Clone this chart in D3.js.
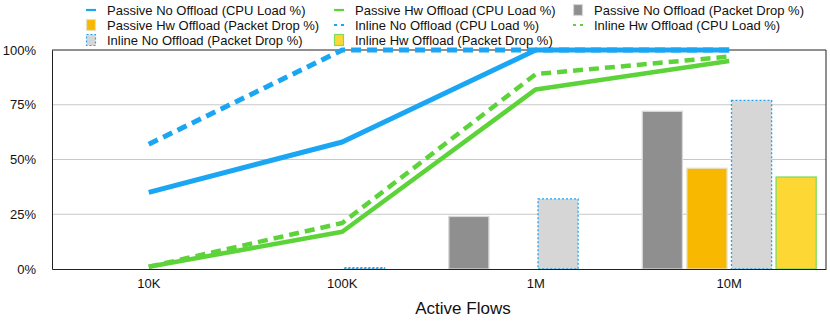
<!DOCTYPE html>
<html><head><meta charset="utf-8">
<script src="https://cdn.jsdelivr.net/npm/d3@7"></script>
<style>
body{margin:0;background:#fff;}
svg{display:block;font-family:"Liberation Sans",Arial,Helvetica,sans-serif;}
</style></head>
<body><svg id="c" width="830" height="324"></svg>
<script>
const categories = ["10K","100K","1M","10M"];
const yTicks = [0,25,50,75,100];
const yTickLabels = ["0%","25%","50%","75%","100%"];
const xTitle = "Active Flows";

// CPU load lines (%)
const passiveNoOffloadCpu = [35,58,100,100];
const passiveHwOffloadCpu = [1,17,82,95];
const inlineNoOffloadCpu  = [57,100,100,100];
const inlineHwOffloadCpu  = [1,21,89,97];

// Packet drop bars (%)
const passiveNoOffloadDrop = [0,0,24,72];
const passiveHwOffloadDrop = [0,0,0,46];
const inlineNoOffloadDrop  = [0,0.6,32,77];
const inlineHwOffloadDrop  = [0,0,0,42];

const C = {blue:"#1ba6f4", green:"#5dd33a", grey:"#8f8f8f", orange:"#f8b800", light:"#d6d6d6", yellow:"#fdd835"};

const lineSeries = [
  {name:"Passive No Offload (CPU Load %)", values:passiveNoOffloadCpu, color:C.blue, w:5, dash:null},
  {name:"Passive Hw Offload (CPU Load %)", values:passiveHwOffloadCpu, color:C.green, w:4.5, dash:null},
  {name:"Inline No Offload (CPU Load %)", values:inlineNoOffloadCpu, color:C.blue, w:5, dash:"10,6"},
  {name:"Inline Hw Offload (CPU Load %)", values:inlineHwOffloadCpu, color:C.green, w:4.5, dash:"10,6"}
];
const barSeries = [
  {name:"Passive No Offload (Packet Drop %)", values:passiveNoOffloadDrop, fill:C.grey, stroke:"#d8d8d8", dash:null},
  {name:"Passive Hw Offload (Packet Drop %)", values:passiveHwOffloadDrop, fill:C.orange, stroke:"#e8e0c0", dash:null},
  {name:"Inline No Offload (Packet Drop %)", values:inlineNoOffloadDrop, fill:C.light, stroke:C.blue, dash:"2,2"},
  {name:"Inline Hw Offload (Packet Drop %)", values:inlineHwOffloadDrop, fill:C.yellow, stroke:"#7fdc5a", dash:null}
];

const svg = d3.select("#c");
const m = {l:52, r:826, t:50, b:269};

const x = d3.scaleBand().domain(categories).range([m.l, m.r]);
const y = d3.scaleLinear().domain([0,100]).range([m.b, m.t]);
const xb = d3.scaleBand().domain(d3.range(barSeries.length)).range([0, x.bandwidth()]).paddingOuter(0.22).paddingInner(0.1);

// gridlines
svg.append("g").selectAll("line").data(yTicks.filter(d=>d>0 && d<100)).join("line")
  .attr("x1",m.l).attr("x2",m.r).attr("y1",d=>y(d)).attr("y2",d=>y(d))
  .attr("stroke","#c8c8c8").attr("stroke-width",1.2);

// frame top/right
svg.append("line").attr("x1",m.l).attr("x2",m.r).attr("y1",m.t).attr("y2",m.t).attr("stroke","#222").attr("stroke-width",1);
svg.append("line").attr("x1",m.r).attr("x2",m.r).attr("y1",m.t).attr("y2",m.b).attr("stroke","#222").attr("stroke-width",1);

// bars
barSeries.forEach((s,i)=>{
  svg.append("g").selectAll("rect").data(s.values.map((v,j)=>({v,c:categories[j]})).filter(d=>d.v>0)).join("rect")
    .attr("x",d=>x(d.c)+xb(i)).attr("width",xb.bandwidth())
    .attr("y",d=>y(d.v)).attr("height",d=>y(0)-y(d.v))
    .attr("fill",s.fill).attr("stroke",s.stroke).attr("stroke-width",1.3)
    .attr("stroke-dasharray",s.dash);
});

// lines
const line = d3.line().x((d,i)=>x(categories[i])+x.bandwidth()/2).y(d=>y(d));
lineSeries.forEach(s=>{
  svg.append("path").datum(s.values).attr("d",line)
    .attr("fill","none").attr("stroke",s.color).attr("stroke-width",s.w)
    .attr("stroke-dasharray",s.dash).attr("stroke-linejoin","round");
});

// axes
const yAxis = d3.axisLeft(y).tickValues(yTicks).tickFormat((d,i)=>yTickLabels[i]).tickSize(0).tickPadding(16);
const ga = svg.append("g").attr("transform",`translate(${m.l},0)`).call(yAxis);
ga.select(".domain").attr("stroke","#222");
ga.selectAll("text").attr("font-size",13).attr("fill","#111").attr("font-family","Liberation Sans, Arial, sans-serif");

const xAxis = d3.axisBottom(x).tickSize(0).tickPadding(10);
const gx = svg.append("g").attr("transform",`translate(0,${m.b})`).call(xAxis);
gx.select(".domain").attr("stroke","#222").attr("stroke-width",1.2);
gx.selectAll("text").attr("font-size",13).attr("fill","#111").attr("font-family","Liberation Sans, Arial, sans-serif");

svg.append("text").attr("x",463).attr("y",314).attr("text-anchor","middle")
  .attr("font-size",17).attr("fill","#111").text(xTitle);

// legend
const legendItems = [
  {type:"line", s:lineSeries[0]},
  {type:"line", s:lineSeries[1]},
  {type:"bar", s:barSeries[0]},
  {type:"bar", s:barSeries[1]},
  {type:"line", s:lineSeries[2]},
  {type:"line", s:lineSeries[3]},
  {type:"bar", s:barSeries[2]},
  {type:"bar", s:barSeries[3]}
];
const colX = [86, 334, 573];
const rowY = [10, 25, 40];
legendItems.forEach((it,k)=>{
  const cx = colX[k%3], cy = rowY[Math.floor(k/3)];
  const g = svg.append("g").attr("transform",`translate(${cx},${cy})`);
  if(it.type==="line"){
    g.append("line").attr("x1",0).attr("x2",10).attr("y1",0).attr("y2",0)
      .attr("stroke",it.s.color).attr("stroke-width",2.2)
      .attr("stroke-dasharray",it.s.dash?"3,4":null);
  } else {
    g.append("rect").attr("x",0.5).attr("y",-5.5).attr("width",9).attr("height",11)
      .attr("fill",it.s.fill).attr("stroke",it.s.stroke).attr("stroke-width",1.2)
      .attr("stroke-dasharray",it.s.dash);
  }
  g.append("text").attr("x",21).attr("y",0).attr("dy","0.35em")
    .attr("font-size",13).attr("fill","#111").text(it.s.name);
});
</script></body></html>
